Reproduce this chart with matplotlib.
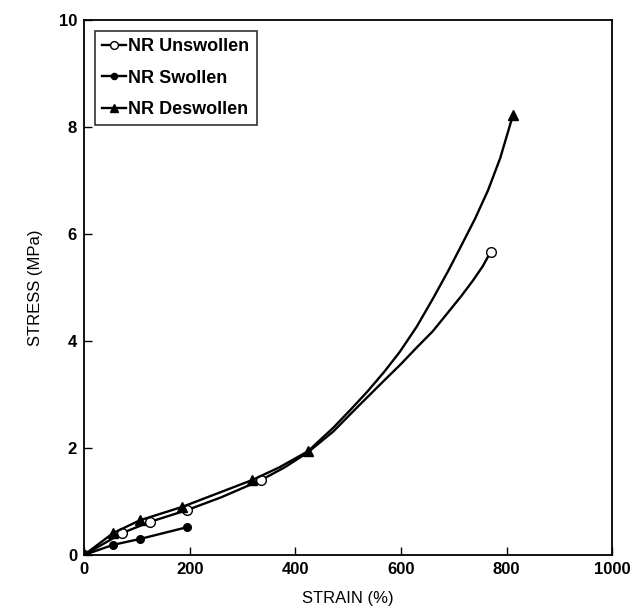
import numpy as np
import matplotlib
matplotlib.use('Agg')
import matplotlib.pyplot as plt

plt.rcParams['font.family'] = ['Liberation Sans', 'DejaVu Sans']

# NR Unswollen: trace of the drawn curve, markers at listed indices
unsw_strain = [0, 72, 125, 195, 260, 335, 380, 424, 472, 517, 567, 600, 630, 660, 688, 715, 737, 755, 770]
unsw_stress = [0, 0.41, 0.62, 0.84, 1.08, 1.40, 1.64, 1.92, 2.31, 2.76, 3.25, 3.57, 3.88, 4.18, 4.52, 4.85, 5.14, 5.40, 5.67]
unsw_marks = [0, 1, 2, 3, 5, 18]

# NR Swollen
sw_strain = [0, 55, 106, 195]
sw_stress = [0, 0.19, 0.30, 0.52]
sw_marks = [0, 1, 2, 3]

# NR Deswollen
desw_strain = [0, 55, 106, 186, 318, 370, 424, 472, 504, 536, 568, 598, 630, 661, 690, 712, 740, 765, 788, 812]
desw_stress = [0, 0.41, 0.65, 0.90, 1.40, 1.64, 1.94, 2.38, 2.71, 3.05, 3.42, 3.80, 4.27, 4.80, 5.32, 5.74, 6.28, 6.82, 7.42, 8.22]
desw_marks = [0, 1, 2, 3, 4, 6, 19]

fig = plt.figure(figsize=(6.39, 6.13), dpi=100)
ax = fig.add_axes([0.1315, 0.0946, 0.8265, 0.8725])

ax.plot(unsw_strain, unsw_stress, color='black', lw=1.7, marker='o', ms=7,
        mfc='white', mec='black', mew=1.0, markevery=unsw_marks, label='NR Unswollen')
ax.plot(sw_strain, sw_stress, color='black', lw=1.7, marker='o', ms=5.5,
        markevery=sw_marks, label='NR Swollen')
ax.plot(desw_strain, desw_stress, color='black', lw=1.7, marker='^', ms=7,
        markevery=desw_marks, label='NR Deswollen')

ax.set_xlim(0, 1000)
ax.set_ylim(0, 10)
ax.set_xticks(np.arange(0, 1001, 200))
ax.set_yticks(np.arange(0, 11, 2))
ax.tick_params(direction='in', length=6, width=1.0, labelsize=12,
               top=False, right=False, pad=5)
for lbl in ax.get_xticklabels() + ax.get_yticklabels():
    lbl.set_fontweight('bold')
for s in ax.spines.values():
    s.set_linewidth(1.3)

ax.set_xlabel('STRAIN (%)', fontsize=12, labelpad=10)
ax.set_ylabel('STRESS (MPa)', fontsize=12, labelpad=11)

leg = ax.legend(loc='upper left', prop={'size': 13, 'weight': 'bold'},
                frameon=True, fancybox=False, markerscale=0.8,
                edgecolor='black', handlelength=1.3, handletextpad=0.15,
                borderpad=0.4, labelspacing=0.8, borderaxespad=0.6)
leg.get_frame().set_linewidth(1.2)

fig.savefig('out.png', dpi=100)
